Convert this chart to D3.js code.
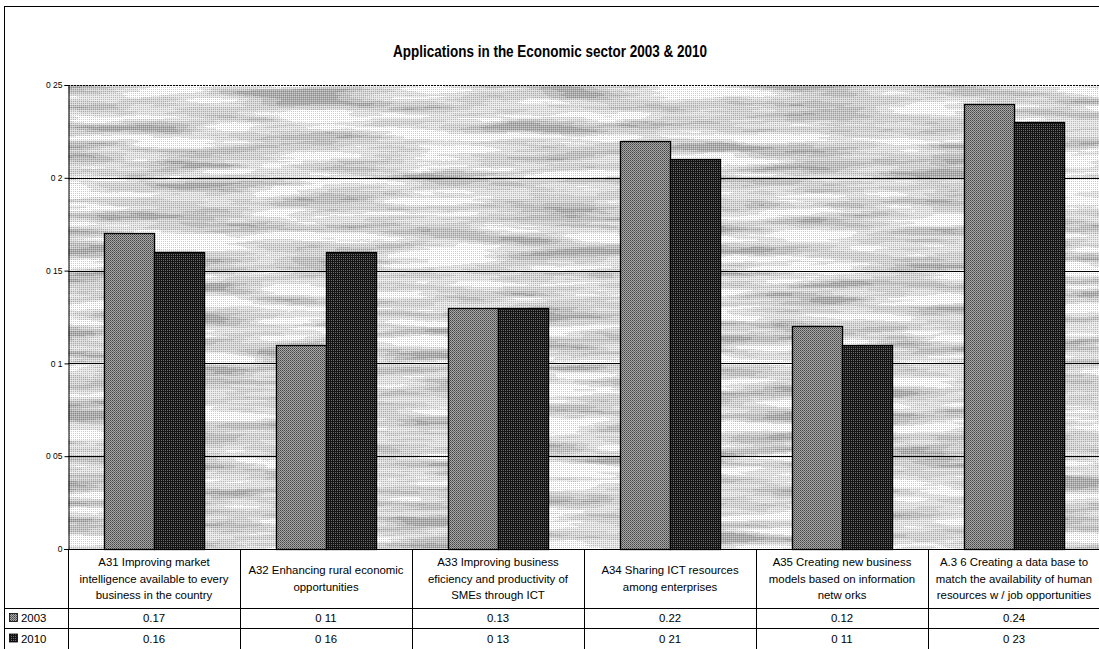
<!DOCTYPE html>
<html><head><meta charset="utf-8">
<script src="https://cdn.jsdelivr.net/npm/d3@7"></script>
<style>html,body{margin:0;padding:0;background:#fff;overflow:hidden}svg{display:block}</style>
</head><body>
<script>
const categories = ["A31","A32","A33","A34","A35","A36"];
const categoryLabels = [
  ["A31 Improving market","intelligence available to every","business in the country"],
  ["A32 Enhancing rural economic","opportunities"],
  ["A33 Improving business","eficiency and productivity of","SMEs through ICT"],
  ["A34 Sharing ICT resources","among enterprises"],
  ["A35 Creating new  business","models based on information","netw orks"],
  ["A.3 6 Creating a data base to","match the availability of human","resources w / job opportunities"]
];
const seriesNames = ["2003","2010"];
const values2003 = [0.17,0.11,0.13,0.22,0.12,0.24];
const values2010 = [0.16,0.16,0.13,0.21,0.11,0.23];
const tableText2003 = ["0.17","0 11","0.13","0.22","0.12","0.24"];
const tableText2010 = ["0.16","0 16","0 13","0 21","0 11","0 23"];
const tickValues = [0,0.05,0.1,0.15,0.2,0.25];
const tickLabels = ["0","0 05","0 1","0 15","0 2","0 25"];
const title = "Applications in the Economic sector 2003 & 2010";

const W=1099,H=649;
const svg=d3.select("body").append("svg").attr("width",W).attr("height",H);
const defs=svg.append("defs");
const font="Arial, 'Liberation Sans', sans-serif";

// background texture filter
const f=defs.append("filter").attr("id","tex").attr("x",0).attr("y",0).attr("width",1).attr("height",1);
f.append("feTurbulence").attr("type","fractalNoise").attr("baseFrequency","0.008 0.09").attr("numOctaves",3).attr("seed",7).attr("result","n");
f.append("feColorMatrix").attr("type","matrix").attr("values","0.33 0.33 0.33 0 0 0.33 0.33 0.33 0 0 0.33 0.33 0.33 0 0 0 0 0 0 1");
const ct0=f.append("feComponentTransfer");
["feFuncR","feFuncG","feFuncB"].forEach(k=>ct0.append(k).attr("type","linear").attr("slope",3).attr("intercept",-1));
const ct=f.append("feComponentTransfer");
["feFuncR","feFuncG","feFuncB"].forEach(k=>ct.append(k).attr("type","discrete").attr("tableValues","0.42 0.55 0.68 0.8 1 1"));

// dither pattern for background
const pd=defs.append("pattern").attr("id","dith").attr("width",2).attr("height",2).attr("patternUnits","userSpaceOnUse");
pd.append("rect").attr("width",1).attr("height",1).attr("fill","#fff").attr("opacity",0.35);
pd.append("rect").attr("x",1).attr("y",1).attr("width",1).attr("height",1).attr("fill","#000").attr("opacity",0.2);

const p1=defs.append("pattern").attr("id","p2003").attr("width",2).attr("height",2).attr("patternUnits","userSpaceOnUse");
p1.append("rect").attr("width",2).attr("height",2).attr("fill","#a8a8a8");
p1.append("rect").attr("width",1).attr("height",1).attr("fill","#444");
p1.append("rect").attr("x",1).attr("y",1).attr("width",1).attr("height",1).attr("fill","#666");
const p2=defs.append("pattern").attr("id","p2010").attr("width",2).attr("height",2).attr("patternUnits","userSpaceOnUse");
p2.append("rect").attr("width",2).attr("height",2).attr("fill","#151515");
p2.append("rect").attr("x",1).attr("width",1).attr("height",1).attr("fill","#6a6a6a");
const fills=["url(#p2003)","url(#p2010)"];

// outer border
svg.append("rect").attr("x",4.5).attr("y",6.5).attr("width",W).attr("height",H).attr("fill","none").attr("stroke","#000");

svg.append("text").attr("x",550).attr("y",57).attr("text-anchor","middle")
  .attr("font-family",font).attr("font-weight","bold").attr("font-size",17)
  .attr("textLength",314).attr("lengthAdjust","spacingAndGlyphs").text(title);

const L=68,R=1100,T=85,B=549;
const x0=d3.scaleBand().domain(categories).range([L,R]).padding(0);
const x1=d3.scaleBand().domain(seriesNames).range([0,x0.bandwidth()]).paddingInner(0).paddingOuter(0.72);
const y=d3.scaleLinear().domain([0,0.25]).range([B,T]);

// plot background
svg.append("rect").attr("x",L).attr("y",T).attr("width",R-L).attr("height",B-T).attr("fill","#fff").attr("filter","url(#tex)");
svg.append("rect").attr("x",L).attr("y",T).attr("width",R-L).attr("height",B-T).attr("fill","url(#dith)");

// gridlines
svg.append("g").selectAll("line").data(tickValues.filter(v=>v>0)).join("line")
  .attr("x1",L).attr("x2",R).attr("y1",d=>Math.round(y(d))+0.5).attr("y2",d=>Math.round(y(d))+0.5)
  .attr("stroke","#000").attr("stroke-width",1).attr("stroke-dasharray",d=>d===0.25?"2,1":null);

// y axis
const yAxis=d3.axisLeft(y).tickValues(tickValues).tickFormat((d,i)=>tickLabels[i]).tickSize(4).tickPadding(2);
const ya=svg.append("g").attr("transform",`translate(${L+0.5},0)`).call(yAxis);
ya.selectAll("text").attr("font-family",font).attr("font-size",8.5).attr("fill","#000");
ya.select(".domain").attr("stroke","#000");

// bars
const data=categories.map((c,i)=>({c,vals:[values2003[i],values2010[i]]}));
const g=svg.append("g").selectAll("g").data(data).join("g").attr("transform",d=>`translate(${x0(d.c)},0)`);
g.selectAll("rect").data(d=>d.vals.map((v,j)=>({s:seriesNames[j],v,j}))).join("rect")
  .attr("x",d=>Math.round(x1(d.s))+0.5).attr("width",Math.round(x1.bandwidth()))
  .attr("y",d=>Math.round(y(d.v))+0.5).attr("height",d=>B-Math.round(y(d.v)))
  .attr("fill",d=>fills[d.j]).attr("stroke","#000").attr("stroke-width",1.3);

// baseline
svg.append("line").attr("x1",L-4).attr("x2",R).attr("y1",B+0.5).attr("y2",B+0.5).attr("stroke","#000");

// table
const rowY=[B,608,628,649];
const tg=svg.append("g");
tg.selectAll("line.v").data(categories.slice(1)).join("line")
  .attr("x1",d=>Math.round(x0(d))+0.5).attr("x2",d=>Math.round(x0(d))+0.5).attr("y1",B).attr("y2",H)
  .attr("stroke","#000");
tg.append("line").attr("x1",L+0.5).attr("x2",L+0.5).attr("y1",B).attr("y2",H).attr("stroke","#000");
[608,628].forEach(yy=>tg.append("line").attr("x1",4).attr("x2",R).attr("y1",yy+0.5).attr("y2",yy+0.5).attr("stroke","#000"));

const hdr=tg.selectAll("text.h").data(categoryLabels).join("text")
  .attr("font-family",font).attr("font-size",11.4).attr("text-anchor","middle").attr("fill","#000");
hdr.each(function(lines,i){
  const cx=x0(categories[i])+x0.bandwidth()/2;
  const n=lines.length;
  const startY=(B+608)/2 - (n-1)*16.5/2 + 4;
  d3.select(this).selectAll("tspan").data(lines).join("tspan")
    .attr("x",cx).attr("y",(d,k)=>startY+k*16.5).text(d=>d);
});
const rowsText=[tableText2003,tableText2010];
rowsText.forEach((arr,r)=>{
  const cy=(rowY[r+1]+rowY[r+2])/2+4;
  tg.selectAll(null).data(arr).join("text")
    .attr("x",(d,i)=>x0(categories[i])+x0.bandwidth()/2).attr("y",cy)
    .attr("text-anchor","middle").attr("font-family",font).attr("font-size",11.4).text(d=>d);
  tg.append("rect").attr("x",9.5).attr("y",cy-8.5).attr("width",8).attr("height",8)
    .attr("fill",fills[r]).attr("stroke","#000").attr("stroke-width",0.8);
  tg.append("text").attr("x",21).attr("y",cy).attr("font-family",font).attr("font-size",11.4).text(seriesNames[r]);
});
</script>
</body></html>
